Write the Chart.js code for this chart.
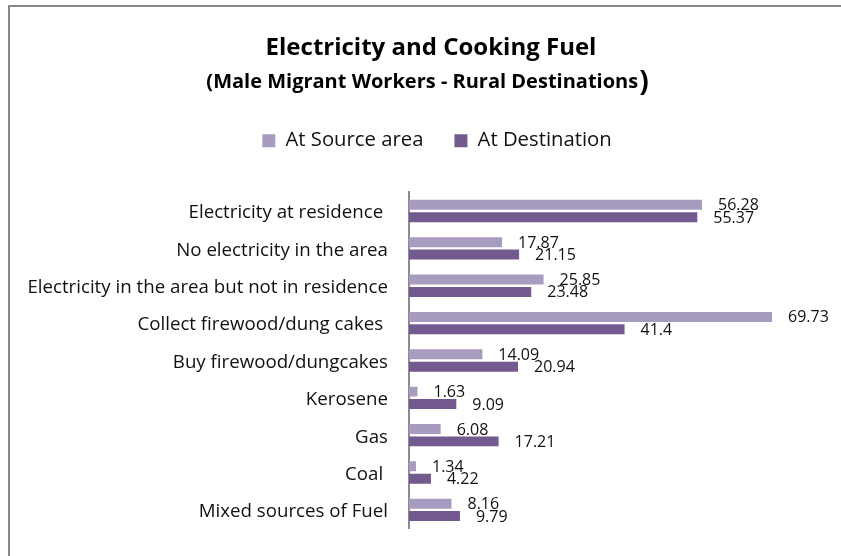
<!DOCTYPE html>
<html>
<head>
<meta charset="utf-8">
<script src="https://cdn.jsdelivr.net/npm/chart.js@4.4.0/dist/chart.umd.min.js"></script>
<style>
  html, body { margin: 0; padding: 0; background: #fff; overflow: hidden; width: 841px; height: 556px; }
  #frame {
    position: absolute; left: 8px; top: 5px; width: 831px; height: 551px; overflow: hidden;
    border-left: 2px solid #878787; border-top: 2px solid #878787;
  }
  #wrap { position: absolute; left: 1px; top: 0; width: 852px; height: 560px; }
</style>
</head>
<body>
<div id="frame">
  <div id="wrap"><canvas id="chart"></canvas></div>
</div>
<script>
const categories = [
  'Electricity at residence ',
  'No electricity in the area',
  'Electricity in the area but not in residence',
  'Collect firewood/dung cakes ',
  'Buy firewood/dungcakes',
  'Kerosene',
  'Gas',
  'Coal ',
  'Mixed sources of Fuel'
];
const sourceArea = [56.28, 17.87, 25.85, 69.73, 14.09, 1.63, 6.08, 1.34, 8.16];
const destination = [55.37, 21.15, 23.48, 41.4, 20.94, 9.09, 17.21, 4.22, 9.79];
const seriesNames = ['At Source area', 'At Destination'];
const titleText = 'Electricity and Cooking Fuel';
const subtitleText = '(Male Migrant Workers - Rural Destinations';

const FONT = '"Open Sans"';
Chart.defaults.font.family = FONT;

// title + subtitle (the closing bracket is bigger in the original)
const titlesPlugin = {
  id: 'titles',
  afterDraw(chart) {
    const ctx = chart.ctx;
    const cx = chart.width / 2;
    ctx.save();
    ctx.fillStyle = '#000';
    ctx.textBaseline = 'alphabetic';
    ctx.textAlign = 'center';
    ctx.font = `bold 24px ${FONT}`;
    ctx.fillText(titleText, cx - 6, 48);

    ctx.font = `bold 20px ${FONT}`;
    const w1 = ctx.measureText(subtitleText).width;
    ctx.font = `bold 28px ${FONT}`;
    const w2 = ctx.measureText(')').width;
    const left = cx - 10 - (w1 + w2) / 2;
    ctx.textAlign = 'left';
    ctx.font = `bold 20px ${FONT}`;
    ctx.fillText(subtitleText, left, 81);
    ctx.font = `bold 28px ${FONT}`;
    ctx.fillText(')', left + w1 + 1, 84);
    ctx.restore();
  }
};

// value labels just right of each bar end
const valueLabels = {
  id: 'valueLabels',
  afterDatasetsDraw(chart) {
    const ctx = chart.ctx;
    ctx.save();
    ctx.font = `16px ${FONT}`;
    ctx.fillStyle = '#111';
    ctx.textAlign = 'left';
    ctx.textBaseline = 'middle';
    chart.data.datasets.forEach((ds, i) => {
      chart.getDatasetMeta(i).data.forEach((bar, j) => {
        ctx.fillText(String(ds.data[j]), bar.x + 16, bar.y + 1);
      });
    });
    ctx.restore();
  }
};

new Chart(document.getElementById('chart'), {
  type: 'bar',
  data: {
    labels: categories,
    datasets: [
      {
        label: seriesNames[0],
        data: sourceArea,
        backgroundColor: '#A89BC0',
        categoryPercentage: 0.663,
        barPercentage: 0.806,
      },
      {
        label: seriesNames[1],
        data: destination,
        backgroundColor: '#725A90',
        categoryPercentage: 0.663,
        barPercentage: 0.806,
      },
    ],
  },
  options: {
    indexAxis: 'y',
    responsive: true,
    maintainAspectRatio: false,
    animation: false,
    layout: { padding: { top: 92.5, bottom: 38.4, left: 0, right: 0 } },
    plugins: {
      title: { display: false },
      tooltip: { enabled: false },
      legend: {
        position: 'top',
        labels: {
          boxWidth: 13,
          boxHeight: 13,
          padding: 31,
          color: '#111',
          font: { size: 20.3 },
        },
      },
    },
    scales: {
      x: {
        position: 'top',
        min: 0,
        max: 87.2,
        ticks: { display: false },
        grid: { display: false },
        border: { display: false },
        afterFit(scale) { scale.height = 31.5; },
      },
      y: {
        grid: { display: false, drawTicks: false },
        border: { display: true, color: '#8c8c8c', width: 2 },
        ticks: { padding: 21, labelOffset: 2, color: '#111', font: { size: 18.7 }, autoSkip: false },
        afterFit(scale) { scale.width = 398; },
      },
    },
  },
  plugins: [titlesPlugin, valueLabels],
});
</script>
</body>
</html>
